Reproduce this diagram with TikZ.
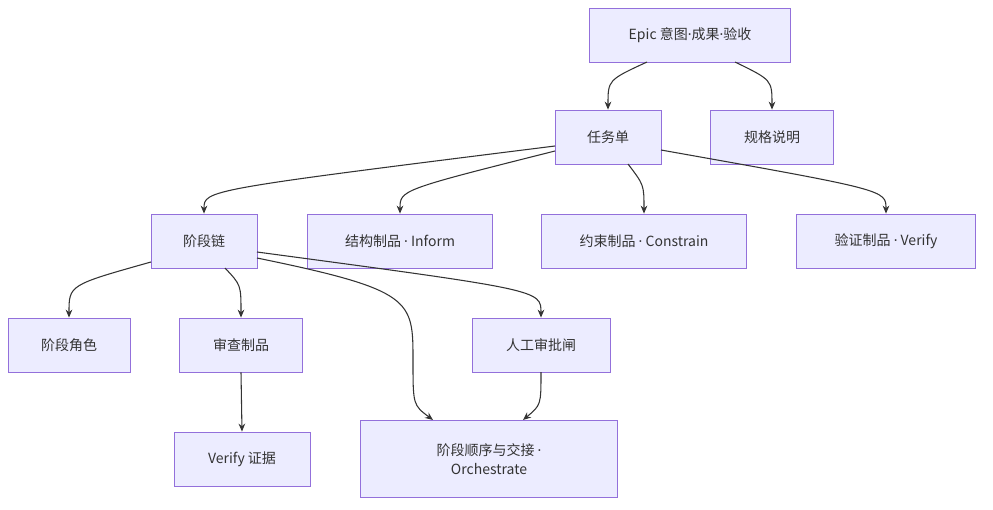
\documentclass[tikz,border=0pt]{standalone}
\usepackage{fontspec}
\setmainfont{Noto Sans CJK SC}
\newfontfamily\latin{Noto Sans}
\newcommand{\dotsep}{{\latin ·}}
\usetikzlibrary{arrows.meta}
\definecolor{boxfill}{HTML}{ECECFF}
\definecolor{boxline}{HTML}{9370DB}
\definecolor{edge}{HTML}{333333}
\begin{document}
\begin{tikzpicture}[x=0.75pt,y=-0.75pt,
	box/.style={draw=boxline,fill=boxfill,line width=0.6pt,minimum height=40.5pt,
		font=\fontsize{10.5}{14}\selectfont,text=edge,align=center,inner sep=0pt},
	link/.style={draw=edge,line width=0.8pt,-{Stealth[length=6pt,width=5pt]}}]
\useasboundingbox (0,0) rectangle (993,510);

%Noeuds
\node[box,minimum width=150.75pt] (epic) at (690,35) {Epic 意图\dotsep 成果\dotsep 验收};
\node[box,minimum width=79.5pt] (task) at (608,137) {任务单};
\node[box,minimum width=92.25pt] (spec) at (772,137) {规格说明};
\node[box,minimum width=79.5pt] (chain) at (204,241) {阶段链};
\node[box,minimum width=138.75pt] (inform) at (400,241) {结构制品 \dotsep{} Inform};
\node[box,minimum width=153.75pt] (constrain) at (644,241) {约束制品 \dotsep{} Constrain};
\node[box,minimum width=134.25pt] (verify) at (886,241) {验证制品 \dotsep{} Verify};
\node[box,minimum width=91.5pt] (role) at (69,345) {阶段角色};
\node[box,minimum width=92.25pt] (review) at (241,345) {审查制品};
\node[box,minimum width=103.5pt] (gate) at (541,345) {人工审批闸};
\node[box,minimum width=102pt] (evidence) at (242,459) {Verify 证据};
\node[box,minimum width=192.75pt,minimum height=57.75pt] (orch) at (489,459) {阶段顺序与交接 \dotsep\\Orchestrate};

%Liens
\coordinate (e1) at (647,62); \coordinate (e2) at (735,62);
\draw[link] (e1) .. controls (608,80) .. (task.north);
\draw[link] (e2) .. controls (772,80) .. (spec.north);
\coordinate (t1) at (555,146); \coordinate (t2) at (555,151);
\coordinate (t3) at (628,164); \coordinate (t4) at (661,150);
\draw[link] (t1) .. controls (204,190) .. (chain.north);
\draw[link] (t2) .. controls (400,190) .. (inform.north);
\draw[link] (t3) .. controls (644,185) .. (constrain.north);
\draw[link] (t4) .. controls (886,190) .. (verify.north);
\coordinate (c1) at (151,262); \coordinate (c2) at (225,268);
\coordinate (c3) at (257,252); \coordinate (c4) at (257,258);
\draw[link] (c1) .. controls (69,285) .. (role.north);
\draw[link] (c2) .. controls (241,285) .. (review.north);
\draw[link] (c3) .. controls (541,290) .. (gate.north);
\draw[link] (c4) .. controls (413,290) and (413,300) .. (413,360) .. controls (413,405) .. (433,420);
\draw[link] (review.south) -- (evidence.north);
\coordinate (g1) at (541,372);
\draw[link] (g1) .. controls (541,405) .. (523,420);
\end{tikzpicture}
\end{document}
